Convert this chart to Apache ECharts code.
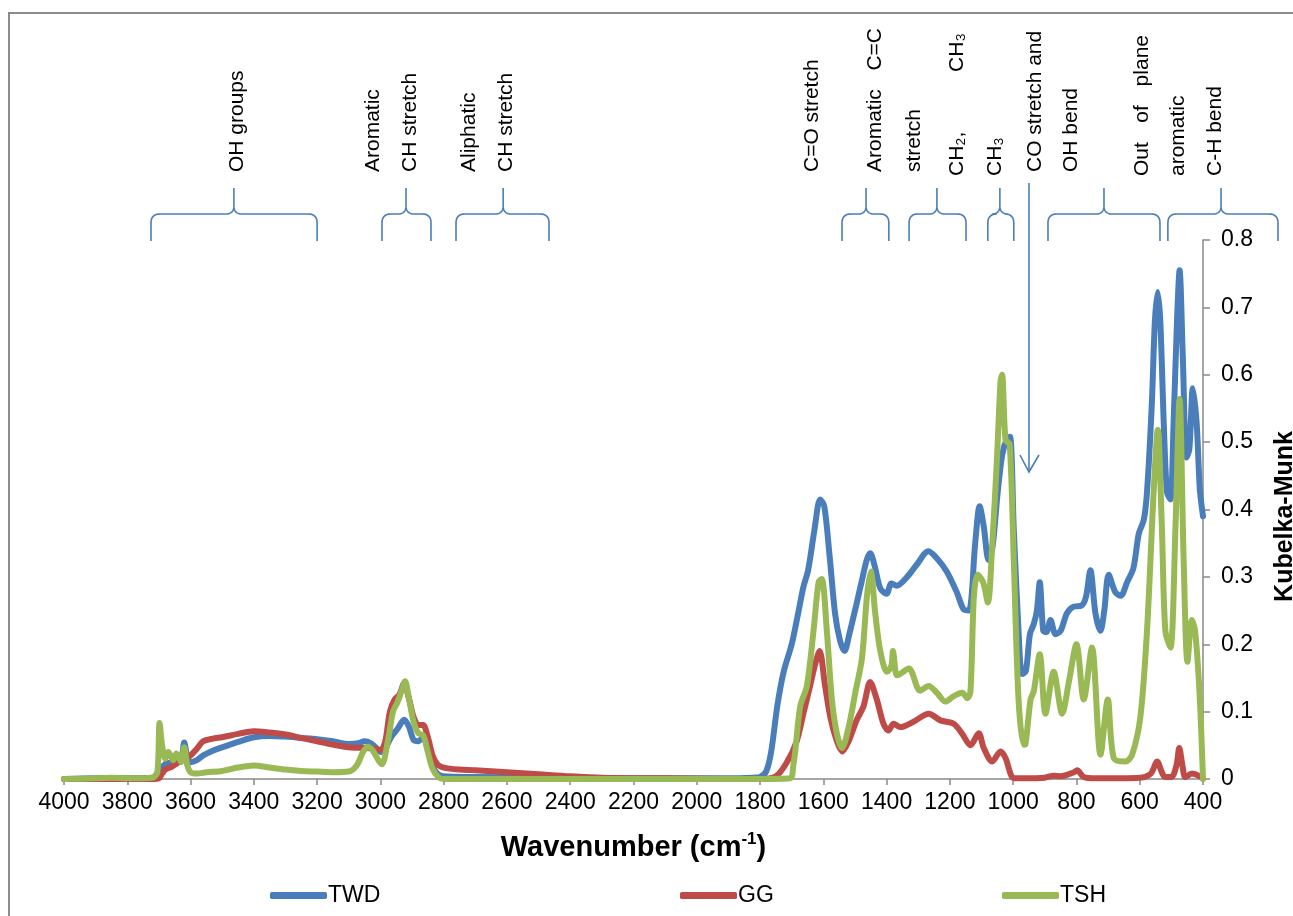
<!DOCTYPE html>
<html>
<head>
<meta charset="utf-8">
<script src="https://cdn.jsdelivr.net/npm/echarts@6/dist/echarts.min.js"></script>
<style>
html,body{margin:0;padding:0;background:#fff;}
#c{width:1293px;height:916px;}
</style>
</head>
<body>
<div id="c"></div>
<script>
// ---- data: [wavenumber (cm-1), Kubelka-Munk] ----
const seriesNames = ['TWD', 'GG', 'TSH'];
const xTicks = [4000, 3800, 3600, 3400, 3200, 3000, 2800, 2600, 2400, 2200, 2000, 1800, 1600, 1400, 1200, 1000, 800, 600, 400];
const yTicks = [0, 0.1, 0.2, 0.3, 0.4, 0.5, 0.6, 0.7, 0.8];

const twdData = [
 [4000,0],[3900,0.001],[3800,0.001],[3720,0.002],[3700,0.012],[3680,0.022],[3650,0.026],[3630,0.03],[3620,0.054],[3610,0.032],[3600,0.025],
 [3580,0.028],[3560,0.035],[3530,0.042],[3500,0.047],[3450,0.055],[3400,0.062],[3350,0.064],[3300,0.063],[3250,0.061],[3200,0.059],
 [3150,0.056],[3100,0.052],[3070,0.053],[3050,0.056],[3030,0.053],[3010,0.045],[3000,0.04],[2985,0.045],[2965,0.063],[2945,0.075],
 [2925,0.088],[2910,0.078],[2895,0.058],[2880,0.056],[2865,0.062],[2850,0.045],[2835,0.02],[2820,0.008],[2800,0.004],[2700,0.003],
 [2500,0.002],[2200,0.001],[1900,0.001],[1820,0.002],[1800,0.003],[1780,0.012],[1765,0.04],[1745,0.11],[1725,0.16],[1700,0.2],
 [1680,0.245],[1663,0.285],[1648,0.31],[1628,0.37],[1610,0.415],[1597,0.405],[1580,0.33],[1563,0.246],[1547,0.205],[1533,0.19],
 [1518,0.215],[1495,0.26],[1478,0.295],[1463,0.325],[1452,0.335],[1437,0.315],[1420,0.283],[1400,0.275],[1385,0.29],[1368,0.287],
 [1335,0.3],[1305,0.318],[1268,0.338],[1240,0.327],[1210,0.308],[1178,0.277],[1157,0.252],[1140,0.25],[1120,0.35],[1106,0.405],
 [1093,0.375],[1078,0.325],[1065,0.345],[1050,0.42],[1035,0.48],[1020,0.505],[1010,0.508],[998,0.37],[983,0.22],[972,0.156],
 [960,0.16],[947,0.215],[935,0.23],[925,0.25],[916,0.292],[905,0.22],[895,0.218],[882,0.236],[866,0.215],[850,0.22],[830,0.246],
 [808,0.256],[785,0.257],[770,0.27],[756,0.31],[740,0.246],[724,0.22],[712,0.25],[698,0.303],[677,0.277],[660,0.272],[640,0.292],
 [620,0.313],[603,0.364],[587,0.385],[577,0.426],[562,0.554],[552,0.68],[543,0.723],[535,0.68],[524,0.528],[514,0.426],[503,0.415],
 [493,0.528],[482,0.682],[474,0.755],[464,0.63],[452,0.477],[443,0.49],[432,0.58],[420,0.528],[410,0.43],[400,0.39]
];
const ggData = [
 [4000,0],[3720,0],[3700,0.001],[3690,0.008],[3680,0.014],[3660,0.018],[3640,0.024],[3620,0.03],[3600,0.035],[3580,0.045],[3560,0.056],
 [3530,0.06],[3500,0.062],[3450,0.067],[3400,0.071],[3350,0.069],[3300,0.066],[3250,0.061],[3200,0.056],[3150,0.051],[3100,0.047],
 [3050,0.046],[3020,0.045],[3000,0.043],[2985,0.055],[2970,0.1],[2955,0.118],[2940,0.125],[2925,0.142],[2910,0.12],[2895,0.092],
 [2880,0.08],[2865,0.08],[2850,0.062],[2835,0.035],[2820,0.022],[2800,0.017],[2750,0.014],[2700,0.013],[2600,0.01],[2500,0.007],
 [2400,0.004],[2300,0.002],[2100,0.001],[1900,0],[1800,0],[1750,0.004],[1715,0.025],[1685,0.055],[1663,0.097],[1642,0.138],[1626,0.17],
 [1612,0.19],[1595,0.14],[1578,0.092],[1557,0.056],[1540,0.041],[1520,0.056],[1495,0.087],[1473,0.108],[1452,0.144],[1431,0.118],
 [1410,0.082],[1394,0.072],[1378,0.082],[1357,0.077],[1315,0.085],[1267,0.097],[1230,0.087],[1188,0.082],[1161,0.067],[1135,0.05],
 [1109,0.068],[1093,0.046],[1066,0.026],[1040,0.041],[1024,0.031],[1005,0.004],[990,0.001],[960,0.001],[900,0.002],[872,0.005],
 [850,0.004],[808,0.01],[798,0.013],[777,0.003],[740,0.001],[600,0.002],[565,0.008],[545,0.026],[530,0.01],[520,0.003],[500,0.003],
 [484,0.02],[475,0.046],[465,0.02],[456,0.003],[435,0.008],[410,0.004],[400,0.001]
];
const tshData = [
 [4000,0],[3900,0.001],[3850,0.002],[3800,0.001],[3720,0.002],[3705,0.01],[3698,0.083],[3690,0.05],[3680,0.03],[3670,0.04],[3655,0.028],
 [3645,0.038],[3630,0.025],[3620,0.047],[3610,0.02],[3600,0.01],[3580,0.008],[3550,0.01],[3500,0.012],[3450,0.017],[3400,0.02],
 [3350,0.017],[3300,0.014],[3250,0.012],[3200,0.011],[3150,0.01],[3100,0.011],[3075,0.02],[3055,0.04],[3040,0.048],[3025,0.043],
 [3005,0.027],[2995,0.022],[2975,0.06],[2960,0.1],[2945,0.115],[2935,0.128],[2922,0.145],[2910,0.12],[2895,0.085],[2880,0.068],
 [2865,0.065],[2850,0.04],[2835,0.015],[2815,0.002],[2800,0],[1800,0],[1705,0.001],[1695,0.02],[1689,0.04],[1673,0.108],[1652,0.138],
 [1631,0.22],[1615,0.292],[1605,0.297],[1589,0.22],[1573,0.118],[1557,0.067],[1541,0.046],[1520,0.077],[1499,0.128],[1478,0.179],
 [1462,0.272],[1450,0.308],[1436,0.246],[1420,0.19],[1399,0.159],[1385,0.168],[1380,0.19],[1372,0.16],[1367,0.154],[1330,0.164],
 [1294,0.131],[1267,0.138],[1241,0.128],[1214,0.115],[1188,0.123],[1161,0.128],[1145,0.12],[1135,0.13],[1124,0.272],[1112,0.303],
 [1095,0.292],[1080,0.262],[1066,0.349],[1051,0.477],[1040,0.59],[1035,0.6],[1024,0.503],[1011,0.497],[998,0.323],[983,0.118],
 [967,0.051],[961,0.052],[945,0.118],[935,0.13],[916,0.185],[898,0.097],[872,0.159],[845,0.097],[824,0.144],[800,0.2],[777,0.118],
 [751,0.195],[724,0.036],[701,0.118],[682,0.031],[645,0.026],[624,0.036],[598,0.092],[577,0.22],[556,0.426],[543,0.518],[530,0.374],
 [519,0.22],[503,0.195],[487,0.374],[474,0.564],[461,0.323],[449,0.174],[435,0.236],[425,0.22],[411,0.128],[400,0]
];

// ---- annotations (wavenumber ranges of the braces, label columns) ----
const braceFrom = [3725, 2995, 2761, 1541, 1329, 1080, 890, 511];
const braceTo   = [3200, 2840, 2467, 1393, 1149, 998, 536, 163];
const braceTip  = [3463, 2919, 2612, 1465, 1241, 1042, 713, 343];
const arrowWn = 950;
const labelText = ['OH groups', 'Aromatic', 'CH stretch', 'Aliphatic', 'CH stretch', 'C=O stretch', 'Aromatic', 'C=C', 'stretch',
  'CH\u2082,', 'CH\u2083', 'CH\u2083', 'CO stretch and', 'OH bend', 'Out', 'of', 'plane', 'aromatic', 'C-H bend'];
const labelWn = [3453, 3023, 2906, 2720, 2603, 1636, 1437, 1437, 1314, 1178, 1178, 1058, 931, 817, 593, 593, 593, 479, 362];

// ---- layout / style ----
const FONT = '"Liberation Sans", Arial, sans-serif';
const colors = ['#4A7EBB', '#BE4B48', '#98B954'];
const labelAnchor = ['start','start','start','start','start','start','start','end','start','start','end','start','start','start','start','mid','end','start','start'];
const labelY = [172,172,172,172,172,172,172,28,172,176,33,176,172,172,176,114,35,176,176];

const chart = echarts.init(document.getElementById('c'), null, {renderer: 'canvas'});

const option = {
  animation: false,
  backgroundColor: '#fff',
  textStyle: {fontFamily: FONT},
  grid: {left: 64, right: 90, top: 240, bottom: 137, containLabel: false, outerBoundsMode: 'none'},
  xAxis: {
    type: 'value', min: xTicks[xTicks.length - 1], max: xTicks[0], interval: 200, inverse: true,
    name: 'Wavenumber (cm{sup|-1})', nameLocation: 'middle', nameGap: 52,
    nameTextStyle: {
      fontSize: 29, fontWeight: 'bold', color: '#000', fontFamily: FONT, lineHeight: 34,
      rich: {sup: {fontSize: 17, fontWeight: 'bold', color: '#000', fontFamily: FONT, verticalAlign: 'top', lineHeight: 18}}
    },
    axisLine: {lineStyle: {color: '#898989', width: 1.5}},
    axisTick: {length: 6, lineStyle: {color: '#898989', width: 1.5}},
    axisLabel: {fontSize: 23, color: '#000', fontFamily: FONT, margin: 12, showMinLabel: true, showMaxLabel: true,
      formatter: v => String(v)},
    splitLine: {show: false}
  },
  yAxis: {
    type: 'value', position: 'right', min: yTicks[0], max: yTicks[yTicks.length - 1], interval: 0.1,
    name: 'Kubelka-Munk', nameLocation: 'middle', nameRotate: 90, nameGap: 70,
    nameTextStyle: {fontSize: 25, fontWeight: 'bold', color: '#000', fontFamily: FONT, padding: [0, 14, 0, 0]},
    axisLine: {show: true, lineStyle: {color: '#898989', width: 1.5}},
    axisTick: {show: true, length: 7, lineStyle: {color: '#898989', width: 1.5}},
    axisLabel: {fontSize: 23, color: '#000', fontFamily: FONT, margin: 18,
      formatter: v => (v === 0 ? '0' : v.toFixed(1))},
    splitLine: {show: false}
  },
  legend: seriesNames.map((n, i) => ({
    data: [n], left: [265, 675, 997][i], top: 879, icon: 'roundRect', itemWidth: 57, itemHeight: 7,
    itemGap: 4, textStyle: {fontSize: 23, color: '#000', fontFamily: FONT, padding: [0, 0, 0, -4]}
  })),
  series: [twdData, ggData, tshData].map((d, i) => ({
    name: seriesNames[i], type: 'line', data: d, showSymbol: false, smooth: 0.3,
    color: colors[i], lineStyle: {width: 6, color: colors[i], cap: 'round', join: 'round'},
    z: 2 + i
  }))
};
chart.setOption(option);

function px(wn) { return chart.convertToPixel({xAxisIndex: 0}, wn); }

function quad(p0, c, p1, n) {
  const out = [];
  for (let k = 1; k <= n; k++) {
    const t = k / n;
    out.push([(1-t)*(1-t)*p0[0] + 2*(1-t)*t*c[0] + t*t*p1[0], (1-t)*(1-t)*p0[1] + 2*(1-t)*t*c[1] + t*t*p1[1]]);
  }
  return out;
}
function bracePoints(x1, x2, xt, yTop, yMid, yBot) {
  const r = 9, rt = 8;
  let pts = [[x1, yBot], [x1, yMid + r]];
  pts = pts.concat(quad([x1, yMid + r], [x1, yMid], [x1 + r, yMid], 8));
  pts.push([xt - rt, yMid]);
  pts = pts.concat(quad([xt - rt, yMid], [xt, yMid], [xt, yMid - rt], 8));
  pts.push([xt, yTop]);
  pts.push([xt, yMid - rt]);
  pts = pts.concat(quad([xt, yMid - rt], [xt, yMid], [xt + rt, yMid], 8));
  pts.push([x2 - r, yMid]);
  pts = pts.concat(quad([x2 - r, yMid], [x2, yMid], [x2, yMid + r], 8));
  pts.push([x2, yBot]);
  return pts;
}

const graphics = [];
// outer frame (top and left edges visible)
graphics.push({type: 'polyline', silent: true, shape: {points: [[9, 916], [9, 13], [1293, 13]]},
  style: {stroke: '#8c8c8c', lineWidth: 2, fill: null}});

braceFrom.forEach((f, i) => {
  graphics.push({type: 'polyline', silent: true,
    shape: {points: bracePoints(px(f), px(braceTo[i]), px(braceTip[i]), 188, 214, 241)},
    style: {stroke: '#4A7EBB', lineWidth: 1.6, fill: null}});
});
const ax = px(arrowWn);
graphics.push({type: 'line', silent: true, shape: {x1: ax, y1: 183, x2: ax, y2: 471},
  style: {stroke: '#4A7EBB', lineWidth: 1.6}});
graphics.push({type: 'polyline', silent: true, shape: {points: [[ax - 9, 455], [ax, 472], [ax + 10, 455]]},
  style: {stroke: '#4A7EBB', lineWidth: 1.6, fill: null}});

labelText.forEach((t, i) => {
  const a = labelAnchor[i];
  graphics.push({type: 'text', silent: true, x: px(labelWn[i]), y: labelY[i], rotation: Math.PI / 2,
    style: {text: t, fontSize: 21, fontFamily: FONT, fill: '#000',
      align: a === 'start' ? 'left' : (a === 'end' ? 'right' : 'center'), verticalAlign: 'middle'}});
});

chart.setOption({graphic: graphics});
</script>
</body>
</html>
